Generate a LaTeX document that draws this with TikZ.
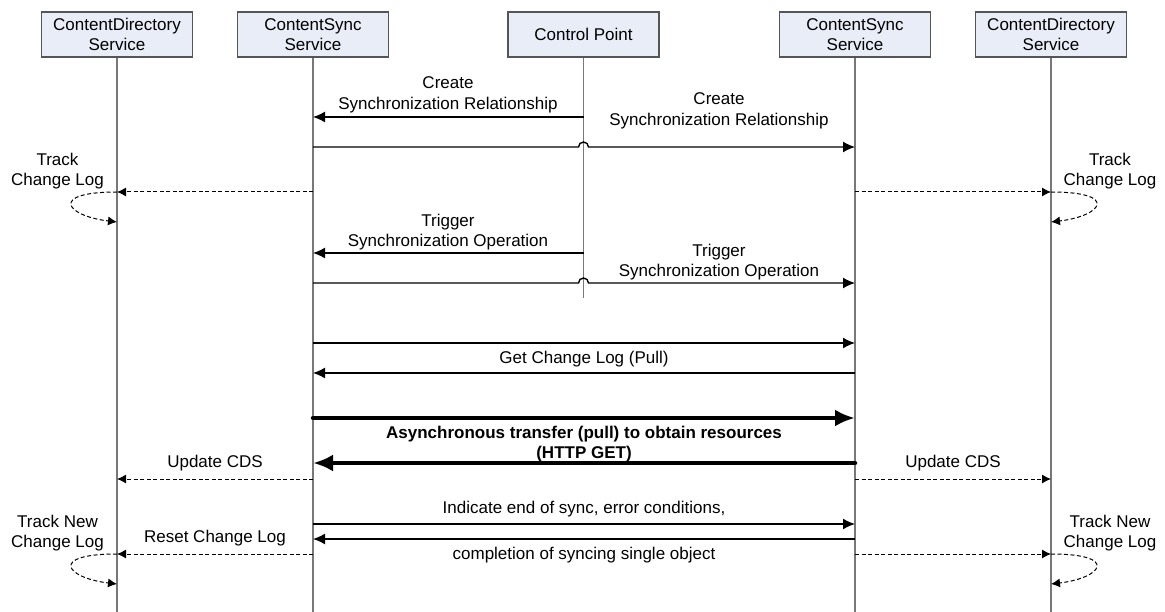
\documentclass[tikz,border=0pt]{standalone}
\usepackage{fontspec}
\setmainfont{Liberation Sans}
\usetikzlibrary{arrows.meta, calc}

\definecolor{boxfill}{RGB}{232,237,247}
\definecolor{boxline}{RGB}{85,85,85}
\definecolor{lifegrey}{RGB}{120,120,120}

\begin{document}
\begin{tikzpicture}[x=1pt, y=-1pt,
	font=\fontsize{17}{20.5}\selectfont,
	actor/.style = {draw=boxline, fill=boxfill, line width=1.2pt, minimum width=151pt,
		minimum height=45pt, inner sep=0pt, align=center},
	life/.style = {draw=lifegrey, line width=1.2pt},
	msg/.style = {line width=1.4pt, -{Latex[length=12pt, width=11pt]}},
	bulk/.style = {line width=4.5pt, line cap=round, -{Latex[length=20pt, width=17pt]}},
	note/.style = {line width=1pt, dash pattern=on 4pt off 2.5pt, -{Latex[length=9pt, width=9pt]}},
	lbl/.style = {align=center, inner sep=0pt}]

\useasboundingbox (0, 0) rectangle (1165, 612);

\node[actor] (cdsA) at (117, 34.5) {ContentDirectory\\Service};
\node[actor] (csA) at (313, 34.5) {ContentSync\\Service};
\node[actor] (cp) at (583.5, 34.5) {Control Point};
\node[actor] (csB) at (855, 34.5) {ContentSync\\Service};
\node[actor] (cdsB) at (1051, 34.5) {ContentDirectory\\Service};

% message rows
\foreach \n/\y in {m1/117, m2/147, m3/192, m3b/222, m4/253, m5/283, m6/343, m7/373,
	m8/418, m9/463, m10/479, m11/524, m12/539, m13/554, m13b/584, cpend/298, bot/612}
	\coordinate (\n) at (0, \y);

\foreach \a in {cdsA, csA, csB, cdsB}
	\draw[life] (\a.south) -- (\a |- bot);
\draw[life] (cp.south) -- (cp |- cpend);

\draw[msg] (cp |- m1) -- (csA |- m1);
\draw[msg] (csA |- m2) -- ($(cp |- m2) + (-5, 0)$)
	arc[start angle=180, end angle=0, radius=5pt] -- (csB |- m2);
\node[lbl] (createA) at (448, 95) {Create\\Synchronization Relationship};
\node[lbl] (createB) at (719, 111) {Create\\Synchronization Relationship};

\draw[note] (csA |- m3) -- (cdsA |- m3);
\draw[note] (csB |- m3) -- (cdsB |- m3);
\draw[note] (cdsA |- m3) .. controls +(-69, 0) and +(-51, -6) .. (cdsA |- m3b);
\draw[note] (cdsB |- m3) .. controls +(69, 0) and +(51, -6) .. (cdsB |- m3b);
\node[lbl] (trackA) at (57.5, 171) {Track\\Change Log};
\node[lbl] (trackB) at (1110, 171) {Track\\Change Log};

\draw[msg] (cp |- m4) -- (csA |- m4);
\draw[msg] (csA |- m5) -- ($(cp |- m5) + (-5, 0)$)
	arc[start angle=180, end angle=0, radius=5pt] -- (csB |- m5);
\node[lbl] (triggerA) at (448, 232) {Trigger\\Synchronization Operation};
\node[lbl] (triggerB) at (719, 262) {Trigger\\Synchronization Operation};

\draw[msg] (csA |- m6) -- (csB |- m6);
\draw[msg] (csB |- m7) -- (csA |- m7);
\node[lbl] (getlog) at (584, 359) {Get Change Log (Pull)};

\draw[bulk] (csA |- m8) -- (csB |- m8);
\draw[bulk] (csB |- m9) -- (csA |- m9);
\node[lbl, font=\fontsize{17}{20.5}\selectfont\bfseries] (async) at (584, 444)
	{Asynchronous transfer (pull) to obtain resources\\(HTTP GET)};

\draw[note] (csA |- m10) -- (cdsA |- m10);
\draw[note] (csB |- m10) -- (cdsB |- m10);
\node[lbl] (updA) at (215, 463) {Update CDS};
\node[lbl] (updB) at (953, 463) {Update CDS};

\draw[msg] (csA |- m11) -- (csB |- m11);
\draw[msg] (csB |- m12) -- (csA |- m12);
\node[lbl] (endsync) at (584, 509) {Indicate end of sync, error conditions,};
\node[lbl] (single) at (584, 555) {completion of syncing single object};

\draw[note] (csA |- m13) -- (cdsA |- m13);
\draw[note] (csB |- m13) -- (cdsB |- m13);
\draw[note] (cdsA |- m13) .. controls +(-69, 0) and +(-51, -6) .. (cdsA |- m13b);
\draw[note] (cdsB |- m13) .. controls +(69, 0) and +(51, -6) .. (cdsB |- m13b);
\node[lbl] (reset) at (215, 538) {Reset Change Log};
\node[lbl] (newA) at (57.5, 533) {Track New\\Change Log};
\node[lbl] (newB) at (1110, 533) {Track New\\Change Log};
\end{tikzpicture}
\end{document}
